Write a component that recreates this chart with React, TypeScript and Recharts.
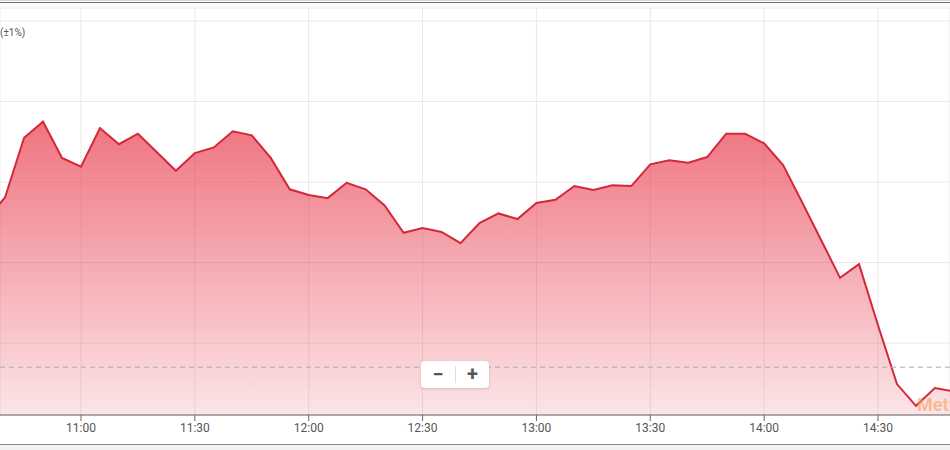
import React from "react";
import { Area, AreaChart, CartesianGrid, ReferenceLine, XAxis, YAxis } from "recharts";

const times = [
  "10:35", "10:40", "10:45", "10:50", "10:55", "11:00", "11:05", "11:10", "11:15", "11:20",
  "11:25", "11:30", "11:35", "11:40", "11:45", "11:50", "11:55", "12:00", "12:05", "12:10",
  "12:15", "12:20", "12:25", "12:30", "12:35", "12:40", "12:45", "12:50", "12:55", "13:00",
  "13:05", "13:10", "13:15", "13:20", "13:25", "13:30", "13:35", "13:40", "13:45", "13:50",
  "13:55", "14:00", "14:05", "14:10", "14:15", "14:20", "14:25", "14:30", "14:35", "14:40",
  "14:45", "14:50",
];

const prices = [
  115.3, 118.1, 125.5, 127.5, 123.0, 121.9, 126.7, 124.7, 126.0, 123.7,
  121.4, 123.6, 124.3, 126.3, 125.8, 123.0, 119.1, 118.4, 118.0, 119.9,
  119.1, 117.1, 113.7, 114.3, 113.8, 112.4, 114.9, 116.1, 115.4, 117.4,
  117.8, 119.5, 119.0, 119.6, 119.5, 122.2, 122.7, 122.4, 123.1, 126.0,
  126.0, 124.8, 122.1, 117.5, 112.8, 108.1, 109.8, 102.2, 94.9, 92.2,
  94.4, 94.0,
];

const tickLabels = ["11:00", "11:30", "12:00", "12:30", "13:00", "13:30", "14:00", "14:30"];
const priceTicks = [100, 110, 120, 130, 140];
const prevClose = 97.0;

const toMin = (s: string) => {
  const [h, m] = s.split(":").map(Number);
  return h * 60 + m;
};
const fmt = (v: number) => {
  const h = Math.floor(v / 60);
  const m = Math.round(v % 60);
  return `${h}:${m < 10 ? "0" : ""}${m}`;
};

const data = times.map((t, i) => ({ t: toMin(t), price: prices[i] }));

export default function App() {
  return (
    <div style={{ position: "absolute", top: 0, left: 0, width: 950, height: 450, background: "#fff", overflow: "hidden", fontFamily: "Roboto, sans-serif" }}>
      <AreaChart width={950} height={450} data={data} margin={{ top: 8, right: 0, left: 0, bottom: 0 }}>
        <defs>
          <linearGradient id="redFill" x1="0" y1="0" x2="0" y2="1">
            <stop offset="0%" stopColor="#e8384a" stopOpacity={0.7} />
            <stop offset="100%" stopColor="#e8384a" stopOpacity={0.13} />
          </linearGradient>
        </defs>
        <CartesianGrid stroke="#e9e9e9" />
        <XAxis
          dataKey="t"
          type="number"
          domain={[638.66, 888.97]}
          allowDataOverflow
          ticks={tickLabels.map(toMin)}
          tickFormatter={fmt}
          height={35}
          stroke="#666"
          tickSize={6}
          tick={{ fill: "#555", fontSize: 12 }}
        />
        <YAxis hide domain={[91.06, 141.62]} ticks={priceTicks} allowDataOverflow />
        <ReferenceLine y={prevClose} stroke="#b5a5a8" strokeDasharray="5 4" />
        <Area
          type="linear"
          dataKey="price"
          stroke="#d2283a"
          strokeWidth={2}
          fill="url(#redFill)"
          fillOpacity={1}
          isAnimationActive={false}
          dot={false}
          activeDot={false}
        />
      </AreaChart>

      <div style={{ position: "absolute", top: 0, left: 0, width: 950, height: 1, background: "#d6d6d6" }} />
      <div style={{ position: "absolute", top: 2, left: 0, width: 950, height: 1, background: "#6f6f6f" }} />
      <div style={{ position: "absolute", top: 444, left: 0, width: 950, height: 1, background: "#8a8a8a" }} />
      <div style={{ position: "absolute", top: 445, left: 0, width: 950, height: 5, background: "#f2f2f2" }} />

      <div style={{ position: "absolute", top: 25, left: 0, width: 30, height: 16, background: "#fff", fontSize: 10, color: "#555", lineHeight: "16px", whiteSpace: "nowrap" }}>
        (±1%)
      </div>

      <div style={{ position: "absolute", left: 421, top: 361, width: 68, height: 27, background: "#fff", borderRadius: 4, boxShadow: "0 1px 3px rgba(0,0,0,0.15)", display: "flex", alignItems: "center", color: "#555", fontSize: 20, fontWeight: 700 }}>
        <span style={{ width: 34, textAlign: "center", lineHeight: "27px" }}>−</span>
        <span style={{ width: 1, height: 17, background: "#ddd" }} />
        <span style={{ width: 33, textAlign: "center", lineHeight: "27px" }}>+</span>
      </div>

      <div style={{ position: "absolute", left: 917, top: 394, fontSize: 18, fontWeight: 700, color: "rgba(245,160,90,0.6)", whiteSpace: "nowrap" }}>
        Met
      </div>
    </div>
  );
}
